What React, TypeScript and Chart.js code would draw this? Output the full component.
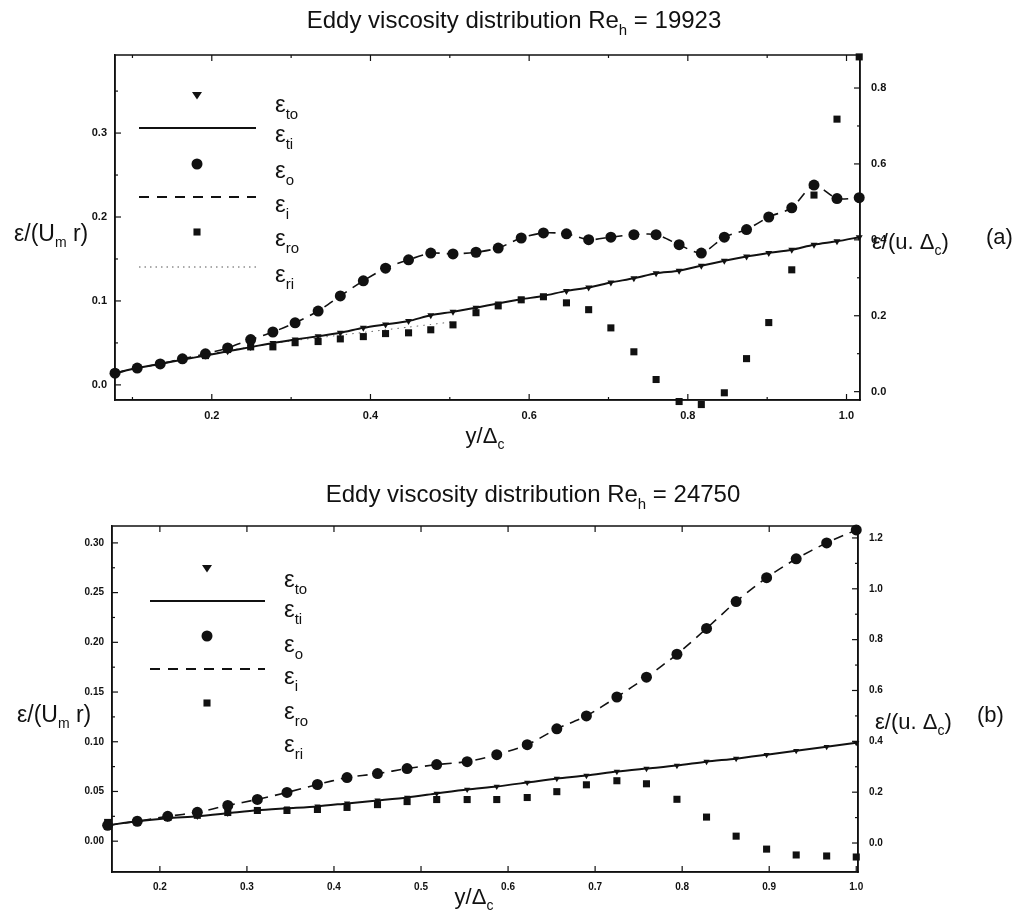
import { useEffect, useRef } from "react";
import { Chart, registerables } from "chart.js";
Chart.register(...registerables);

const FONT = "'Liberation Sans', Arial, sans-serif";
const INK = "#111";

// ---------- Panel (a): Re_h = 19923 ----------
const xA = [0.078, 0.106, 0.135, 0.163, 0.192, 0.220, 0.249, 0.277, 0.305, 0.334, 0.362, 0.391, 0.419, 0.448, 0.476, 0.504, 0.533, 0.561, 0.590, 0.618, 0.647, 0.675, 0.703, 0.732, 0.760, 0.789, 0.817, 0.846, 0.874, 0.902, 0.931, 0.959, 0.988, 1.016];
const epsToA = [0.014, 0.020, 0.025, 0.030, 0.035, 0.040, 0.045, 0.050, 0.054, 0.058, 0.062, 0.068, 0.072, 0.076, 0.083, 0.087, 0.092, 0.097, 0.102, 0.106, 0.112, 0.116, 0.122, 0.127, 0.133, 0.136, 0.142, 0.148, 0.153, 0.157, 0.161, 0.167, 0.171, 0.176];
const epsTiA = [0.014, 0.020, 0.025, 0.030, 0.035, 0.040, 0.045, 0.050, 0.054, 0.058, 0.062, 0.068, 0.072, 0.076, 0.083, 0.087, 0.092, 0.097, 0.102, 0.106, 0.112, 0.116, 0.122, 0.127, 0.133, 0.136, 0.142, 0.148, 0.153, 0.157, 0.161, 0.167, 0.171, 0.176];
const epsOA = [0.014, 0.020, 0.025, 0.031, 0.037, 0.044, 0.054, 0.063, 0.074, 0.088, 0.106, 0.124, 0.139, 0.149, 0.157, 0.156, 0.158, 0.163, 0.175, 0.181, 0.180, 0.173, 0.176, 0.179, 0.179, 0.167, 0.157, 0.176, 0.185, 0.200, 0.211, 0.238, 0.222, 0.223];
const epsIA = [0.014, 0.020, 0.025, 0.031, 0.037, 0.044, 0.054, 0.063, 0.074, 0.088, 0.106, 0.124, 0.139, 0.149, 0.157, 0.156, 0.158, 0.163, 0.175, 0.181, 0.180, 0.173, 0.176, 0.179, 0.179, 0.167, 0.157, 0.176, 0.185, 0.200, 0.211, 0.238, 0.222, 0.223];
const epsRoA = [0.050, 0.063, 0.074, 0.087, 0.095, 0.111, 0.118, 0.118, 0.129, 0.132, 0.139, 0.145, 0.153, 0.155, 0.163, 0.176, 0.208, 0.226, 0.242, 0.250, 0.234, 0.216, 0.168, 0.105, 0.032, -0.026, -0.034, -0.003, 0.087, 0.182, 0.321, 0.518, 0.718, 0.882];
const epsRiA = [0.050, 0.062, 0.074, 0.086, 0.097, 0.108, 0.118, 0.127, 0.135, 0.142, 0.149, 0.156, 0.163, 0.170, 0.177, 0.184];
const xTicksA = [0.2, 0.4, 0.6, 0.8, 1.0];
const xTickLabelsA = ["0.2", "0.4", "0.6", "0.8", "1.0"];
const xMinorA = [0.1, 0.3, 0.5, 0.7, 0.9];
const yTicksA = [0.0, 0.1, 0.2, 0.3];
const yTickLabelsA = ["0.0", "0.1", "0.2", "0.3"];
const yMinorA = [0.05, 0.15, 0.25, 0.35];
const y1TicksA = [0.0, 0.2, 0.4, 0.6, 0.8];
const y1TickLabelsA = ["0.0", "0.2", "0.4", "0.6", "0.8"];
const y1MinorA = [0.1, 0.3, 0.5, 0.7];

// ---------- Panel (b): Re_h = 24750 ----------
const xB = [0.140, 0.174, 0.209, 0.243, 0.278, 0.312, 0.346, 0.381, 0.415, 0.450, 0.484, 0.518, 0.553, 0.587, 0.622, 0.656, 0.690, 0.725, 0.759, 0.794, 0.828, 0.862, 0.897, 0.931, 0.966, 1.000];
const epsToB = [0.016, 0.020, 0.023, 0.025, 0.028, 0.031, 0.033, 0.035, 0.038, 0.041, 0.044, 0.048, 0.052, 0.055, 0.059, 0.063, 0.066, 0.070, 0.073, 0.076, 0.080, 0.083, 0.087, 0.091, 0.095, 0.099];
const epsTiB = [0.016, 0.020, 0.023, 0.025, 0.028, 0.031, 0.033, 0.035, 0.038, 0.041, 0.044, 0.048, 0.052, 0.055, 0.059, 0.063, 0.066, 0.070, 0.073, 0.076, 0.080, 0.083, 0.087, 0.091, 0.095, 0.099];
const epsOB = [0.016, 0.020, 0.025, 0.029, 0.036, 0.042, 0.049, 0.057, 0.064, 0.068, 0.073, 0.077, 0.080, 0.087, 0.097, 0.113, 0.126, 0.145, 0.165, 0.188, 0.214, 0.241, 0.265, 0.284, 0.300, 0.313];
const epsIB = [0.016, 0.020, 0.025, 0.029, 0.036, 0.042, 0.049, 0.057, 0.064, 0.068, 0.073, 0.077, 0.080, 0.087, 0.097, 0.113, 0.126, 0.145, 0.165, 0.188, 0.214, 0.241, 0.265, 0.284, 0.300, 0.313];
const epsRoB = [0.081, 0.089, 0.101, 0.109, 0.120, 0.128, 0.128, 0.132, 0.140, 0.151, 0.163, 0.171, 0.171, 0.171, 0.179, 0.202, 0.229, 0.245, 0.233, 0.172, 0.102, 0.027, -0.024, -0.047, -0.051, -0.055];
const xTicksB = [0.2, 0.3, 0.4, 0.5, 0.6, 0.7, 0.8, 0.9, 1.0];
const xTickLabelsB = ["0.2", "0.3", "0.4", "0.5", "0.6", "0.7", "0.8", "0.9", "1.0"];
const xMinorB: number[] = [];
const yTicksB = [0.0, 0.05, 0.10, 0.15, 0.20, 0.25, 0.30];
const yTickLabelsB = ["0.00", "0.05", "0.10", "0.15", "0.20", "0.25", "0.30"];
const yMinorB = [0.025, 0.075, 0.125, 0.175, 0.225, 0.275];
const y1TicksB = [0.0, 0.2, 0.4, 0.6, 0.8, 1.0, 1.2];
const y1TickLabelsB = ["0.0", "0.2", "0.4", "0.6", "0.8", "1.0", "1.2"];
const y1MinorB = [0.1, 0.3, 0.5, 0.7, 0.9, 1.1];

type Part = { t: string; sub?: boolean };
type TextItem = { parts: Part[]; x: number; base: number; size: number; align: "left" | "center" };
type LegendRow = { sym: "tri" | "solid" | "circle" | "dash" | "square" | "dot" | "none"; y: number; sub: string; base: number };

function drawRich(ctx: CanvasRenderingContext2D, it: TextItem) {
  const subSize = Math.round(it.size * 0.62);
  const widths = it.parts.map((p) => {
    ctx.font = `${p.sub ? subSize : it.size}px ${FONT}`;
    return ctx.measureText(p.t).width;
  });
  const total = widths.reduce((a, b) => a + b, 0);
  let cx = it.align === "center" ? it.x - total / 2 : it.x;
  ctx.textAlign = "left";
  ctx.textBaseline = "alphabetic";
  ctx.fillStyle = INK;
  it.parts.forEach((p, i) => {
    ctx.font = `${p.sub ? subSize : it.size}px ${FONT}`;
    ctx.fillText(p.t, cx, p.sub ? it.base + it.size * 0.28 : it.base);
    cx += widths[i];
  });
}

const pts = (xs: number[], ys: (number | null)[]) => ys.map((y, i) => ({ x: xs[i], y }));

interface Panel {
  height: number; padTop: number; leftW: number; rightW: number; bottomH: number;
  xMin: number; xMax: number; yMin: number; yMax: number; y1Min: number; y1Max: number;
  xTicks: number[]; xLabels: string[]; xMinor: number[];
  yTicks: number[]; yLabels: string[]; yMinor: number[];
  y1Ticks: number[]; y1Labels: string[]; y1Minor: number[];
  tickFont: number;
  datasets: any[];
  texts: TextItem[];
  legend: { symX: number; lx0: number; lx1: number; textX: number; rows: LegendRow[] };
  triR: number; sqR: number; circR: number;
}

function decor(chart: any, p: Panel) {
  const ctx: CanvasRenderingContext2D = chart.ctx;
  const a = chart.chartArea;
  const xs = chart.scales.x, ys = chart.scales.y, y1 = chart.scales.y1;
  ctx.save();
  ctx.strokeStyle = INK;
  ctx.lineWidth = 1.5;
  ctx.strokeRect(a.left, a.top, a.right - a.left, a.bottom - a.top);
  ctx.lineWidth = 1.2;
  const seg = (x0: number, y0: number, x1: number, y1_: number) => {
    ctx.beginPath(); ctx.moveTo(x0, y0); ctx.lineTo(x1, y1_); ctx.stroke();
  };
  p.xTicks.forEach((v) => { const px = xs.getPixelForValue(v); seg(px, a.bottom, px, a.bottom - 6); seg(px, a.top, px, a.top + 6); });
  p.xMinor.forEach((v) => { const px = xs.getPixelForValue(v); seg(px, a.bottom, px, a.bottom - 3); seg(px, a.top, px, a.top + 3); });
  p.yTicks.forEach((v) => { const py = ys.getPixelForValue(v); seg(a.left, py, a.left + 6, py); });
  p.yMinor.forEach((v) => { const py = ys.getPixelForValue(v); if (py > a.top) seg(a.left, py, a.left + 3, py); });
  p.y1Ticks.forEach((v) => { const py = y1.getPixelForValue(v); seg(a.right, py, a.right - 6, py); });
  p.y1Minor.forEach((v) => { const py = y1.getPixelForValue(v); seg(a.right, py, a.right - 3, py); });

  p.texts.forEach((t) => drawRich(ctx, t));

  const L = p.legend;
  L.rows.forEach((r) => {
    ctx.fillStyle = INK; ctx.strokeStyle = INK;
    if (r.sym === "tri") {
      const s = p.triR + 1;
      ctx.beginPath();
      ctx.moveTo(L.symX - s, r.y - s * 0.6); ctx.lineTo(L.symX + s, r.y - s * 0.6); ctx.lineTo(L.symX, r.y + s * 0.9);
      ctx.closePath(); ctx.fill();
    } else if (r.sym === "circle") {
      ctx.beginPath(); ctx.arc(L.symX, r.y, p.circR, 0, Math.PI * 2); ctx.fill();
    } else if (r.sym === "square") {
      const s = p.sqR * Math.SQRT1_2;
      ctx.fillRect(L.symX - s, r.y - s, 2 * s, 2 * s);
    } else if (r.sym !== "none") {
      ctx.lineWidth = r.sym === "solid" ? 2 : r.sym === "dash" ? 1.8 : 1;
      ctx.strokeStyle = r.sym === "dot" ? "#555" : INK;
      ctx.setLineDash(r.sym === "dash" ? [10, 8] : r.sym === "dot" ? [1.5, 4] : []);
      seg(L.lx0, r.y, L.lx1, r.y);
      ctx.setLineDash([]);
    }
    drawRich(ctx, { parts: [{ t: "ε" }, { t: r.sub, sub: true }], x: L.textX, base: r.base, size: 24, align: "left" });
  });
  ctx.restore();
}

function axis(min: number, max: number, ticks: number[], labels: string[], pos: string, fit: (s: any) => void, size: number, padding: number) {
  return {
    type: "linear",
    position: pos,
    min, max,
    grid: { display: false, drawTicks: false },
    border: { display: true, color: INK, width: 1.5 },
    ticks: {
      autoSkip: false, maxRotation: 0, padding, color: INK,
      font: { family: FONT, size, weight: "bold" },
      callback: (_v: any, i: number) => labels[i],
    },
    afterBuildTicks: (s: any) => { s.ticks = ticks.map((v) => ({ value: v })); },
    afterFit: fit,
  };
}

function makeConfig(p: Panel) {
  return {
    type: "line",
    data: { datasets: p.datasets },
    options: {
      animation: false,
      responsive: false,
      events: [],
      layout: { padding: { top: p.padTop, left: 0, right: 0, bottom: 0 } },
      plugins: { legend: { display: false }, tooltip: { enabled: false } },
      scales: {
        x: axis(p.xMin, p.xMax, p.xTicks, p.xLabels, "bottom", (s) => { s.height = p.bottomH; }, p.tickFont, 9),
        y: axis(p.yMin, p.yMax, p.yTicks, p.yLabels, "left", (s) => { s.width = p.leftW; }, p.tickFont, 8),
        y1: axis(p.y1Min, p.y1Max, p.y1Ticks, p.y1Labels, "right", (s) => { s.width = p.rightW; }, p.tickFont, 11),
      },
    },
    plugins: [{ id: "decor", afterDraw: (c: any) => decor(c, p) }],
  };
}

function markers(label: string, data: any[], style: string, r: number, axisId: string, rot = 0) {
  return {
    label, data, yAxisID: axisId, showLine: false, clip: false,
    pointStyle: style, pointRadius: r, pointRotation: rot,
    pointBackgroundColor: INK, pointBorderColor: INK, pointBorderWidth: 0,
    borderColor: INK, backgroundColor: INK,
  };
}
function line(label: string, data: any[], dash: number[], width: number, axisId: string, color = INK) {
  return {
    label, data, yAxisID: axisId, showLine: true, clip: false, spanGaps: false,
    borderColor: color, borderWidth: width, borderDash: dash, pointRadius: 0, tension: 0.25, fill: false,
  };
}

const panelA: Panel = {
  height: 455, padTop: 55, leftW: 115, rightW: 173, bottomH: 55,
  xMin: 0.078, xMax: 1.017, yMin: -0.018, yMax: 0.393, y1Min: -0.022, y1Max: 0.887,
  xTicks: xTicksA, xLabels: xTickLabelsA, xMinor: xMinorA,
  yTicks: yTicksA, yLabels: yTickLabelsA, yMinor: yMinorA,
  y1Ticks: y1TicksA, y1Labels: y1TickLabelsA, y1Minor: y1MinorA,
  tickFont: 11,
  triR: 4, sqR: 5, circR: 5.5,
  datasets: [
    markers("ε_to", pts(xA, epsToA), "triangle", 4, "y", 180),
    markers("ε_o", pts(xA, epsOA), "circle", 5.5, "y"),
    markers("ε_ro", pts(xA, epsRoA), "rect", 5, "y1"),
    line("ε_ti", pts(xA, epsTiA), [], 2, "y"),
    line("ε_i", pts(xA, epsIA), [10, 7], 1.6, "y"),
    line("ε_ri", pts(xA, epsRiA), [1.5, 5], 1, "y1", "#666"),
  ],
  texts: [
    { parts: [{ t: "Eddy viscosity distribution Re" }, { t: "h", sub: true }, { t: " = 19923" }], x: 514, base: 28, size: 24, align: "center" },
    { parts: [{ t: "ε/(U" }, { t: "m", sub: true }, { t: " r)" }], x: 14, base: 241, size: 23, align: "left" },
    { parts: [{ t: "y/Δ" }, { t: "c", sub: true }], x: 485, base: 443, size: 22, align: "center" },
    { parts: [{ t: "ε/(u. Δ" }, { t: "c", sub: true }, { t: ")" }], x: 872, base: 249, size: 22, align: "left" },
    { parts: [{ t: "(a)" }], x: 986, base: 244, size: 22, align: "left" },
  ],
  legend: {
    symX: 197, lx0: 139, lx1: 256, textX: 275,
    rows: [
      { sym: "tri", y: 95, sub: "to", base: 112 },
      { sym: "solid", y: 128, sub: "ti", base: 142 },
      { sym: "circle", y: 164, sub: "o", base: 178 },
      { sym: "dash", y: 197, sub: "i", base: 212 },
      { sym: "square", y: 232, sub: "ro", base: 246 },
      { sym: "dot", y: 267, sub: "ri", base: 282 },
    ],
  },
};

const panelB: Panel = {
  height: 460, padTop: 71, leftW: 112, rightW: 175, bottomH: 43,
  xMin: 0.145, xMax: 1.002, yMin: -0.031, yMax: 0.317, y1Min: -0.114, y1Max: 1.247,
  xTicks: xTicksB, xLabels: xTickLabelsB, xMinor: xMinorB,
  yTicks: yTicksB, yLabels: yTickLabelsB, yMinor: yMinorB,
  y1Ticks: y1TicksB, y1Labels: y1TickLabelsB, y1Minor: y1MinorB,
  tickFont: 10,
  triR: 4, sqR: 5, circR: 5.5,
  datasets: [
    markers("ε_to", pts(xB, epsToB), "triangle", 3.6, "y", 180),
    markers("ε_o", pts(xB, epsOB), "circle", 5.5, "y"),
    markers("ε_ro", pts(xB, epsRoB), "rect", 5, "y1"),
    line("ε_ti", pts(xB, epsTiB), [], 2, "y"),
    line("ε_i", pts(xB, epsIB), [10, 7], 1.6, "y"),
  ],
  texts: [
    { parts: [{ t: "Eddy viscosity distribution Re" }, { t: "h", sub: true }, { t: " = 24750" }], x: 533, base: 47, size: 24, align: "center" },
    { parts: [{ t: "ε/(U" }, { t: "m", sub: true }, { t: " r)" }], x: 17, base: 267, size: 23, align: "left" },
    { parts: [{ t: "y/Δ" }, { t: "c", sub: true }], x: 474, base: 449, size: 22, align: "center" },
    { parts: [{ t: "ε/(u. Δ" }, { t: "c", sub: true }, { t: ")" }], x: 875, base: 274, size: 22, align: "left" },
    { parts: [{ t: "(b)" }], x: 977, base: 267, size: 22, align: "left" },
  ],
  legend: {
    symX: 207, lx0: 150, lx1: 265, textX: 284,
    rows: [
      { sym: "tri", y: 113, sub: "to", base: 132 },
      { sym: "solid", y: 146, sub: "ti", base: 162 },
      { sym: "circle", y: 181, sub: "o", base: 197 },
      { sym: "dash", y: 214, sub: "i", base: 229 },
      { sym: "square", y: 248, sub: "ro", base: 264 },
      { sym: "none", y: 281, sub: "ri", base: 297 },
    ],
  },
};

function PanelChart({ panel, top }: { panel: Panel; top: number }) {
  const ref = useRef<HTMLCanvasElement | null>(null);
  useEffect(() => {
    if (!ref.current) return;
    const chart = new Chart(ref.current, makeConfig(panel) as any);
    return () => chart.destroy();
  }, [panel]);
  return (
    <canvas
      ref={ref}
      width={1033}
      height={panel.height}
      style={{ position: "absolute", left: 0, top, width: 1033, height: panel.height, display: "block" }}
    />
  );
}

export default function App() {
  return (
    <div style={{ position: "absolute", left: 0, top: 0, width: 1033, height: 915, background: "#fff" }}>
      <PanelChart panel={panelA} top={0} />
      <PanelChart panel={panelB} top={455} />
    </div>
  );
}
